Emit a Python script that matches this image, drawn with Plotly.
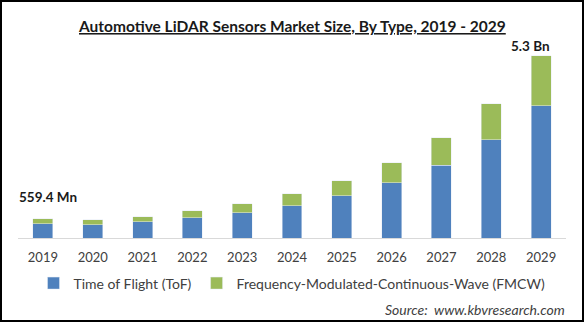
import plotly.graph_objects as go

years = ["2019", "2020", "2021", "2022", "2023", "2024", "2025", "2026", "2027", "2028", "2029"]
tof = [0.42, 0.39, 0.47, 0.59, 0.74, 0.94, 1.23, 1.61, 2.12, 2.86, 3.85]
fmcw = [0.14, 0.14, 0.15, 0.20, 0.26, 0.35, 0.44, 0.58, 0.80, 1.04, 1.45]
first_label = "559.4 Mn"
last_label = "5.3 Bn"

W, H = 584, 322
ml, mr, mt, mb = 18, 18, 50, 84
pw, ph = W - ml - mr, H - mt - mb
FONT = "Lato"

fig = go.Figure()
fig.add_trace(go.Bar(x=years, y=tof, name="Time of Flight (ToF)", marker_color="#4f81bd", width=0.4))
fig.add_trace(go.Bar(x=years, y=fmcw, name="Frequency-Modulated-Continuous-Wave (FMCW)", marker_color="#9bbb59", width=0.4))

totals = [a + b for a, b in zip(tof, fmcw)]

fig.update_layout(
    width=W, height=H, barmode="stack",
    margin=dict(l=ml, r=mr, t=mt, b=mb),
    paper_bgcolor="white", plot_bgcolor="white",
    font=dict(family=FONT, color="#404040"),
    xaxis=dict(type="category", showgrid=False, showline=True, linecolor="#d9d9d9", linewidth=1,
               ticks="outside", ticklen=7, tickcolor="rgba(0,0,0,0)",
               tickfont=dict(size=13, color="#404040"), range=[-0.5, 10.5]),
    yaxis=dict(visible=False, range=[0, 188 / 34.4]),
    legend=dict(orientation="h", x=0.5, xanchor="center", y=(H - mb - 283.5) / ph, yanchor="middle",
                font=dict(size=14, color="#404040"), traceorder="normal", itemwidth=30),
    showlegend=True,
)

fig.add_annotation(text="<b><u>Automotive LiDAR Sensors Market Size, By Type, 2019 - 2029</u></b>",
                   xref="paper", yref="paper", x=(292 - ml) / pw, y=(H - mb - 26) / ph,
                   xanchor="center", yanchor="middle", showarrow=False,
                   font=dict(size=15.5, color="#1a1a1a", family=FONT))
fig.add_annotation(text=f"<b>{first_label}</b>", x=0, y=totals[0], yanchor="bottom",
                   xanchor="center", xshift=5, yshift=12, showarrow=False,
                   font=dict(size=13.5, color="#1a1a1a", family=FONT))
fig.add_annotation(text=f"<b>{last_label}</b>", x=10, y=totals[-1], yanchor="bottom",
                   xanchor="center", xshift=-11, yshift=0, showarrow=False,
                   font=dict(size=13.5, color="#1a1a1a", family=FONT))
fig.add_annotation(text="<i>Source:  www.kbvresearch.com</i>", xref="paper", yref="paper",
                   x=(475 - ml) / pw, y=(H - mb - 309.5) / ph, xanchor="center", yanchor="middle",
                   showarrow=False, font=dict(size=14, color="#404040", family=FONT))

fig.add_shape(type="rect", xref="paper", yref="paper",
              x0=(-ml + 1) / pw, x1=1 + (mr - 1) / pw,
              y0=-(mb - 1) / ph, y1=1 + (mt - 1) / ph,
              line=dict(color="black", width=2), fillcolor="rgba(0,0,0,0)", layer="above")

fig.write_html("out.html")
